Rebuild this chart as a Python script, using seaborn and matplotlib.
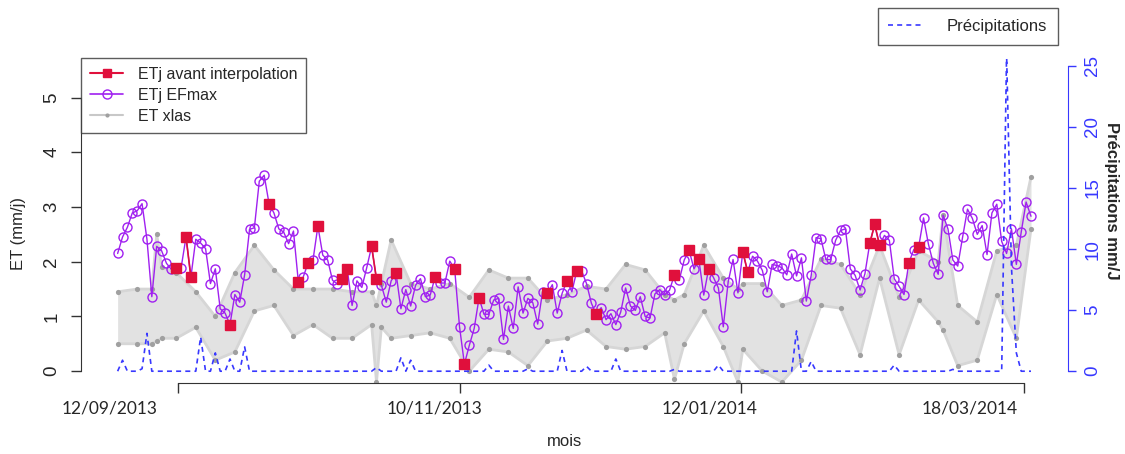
import matplotlib
matplotlib.use("Agg")
import matplotlib.pyplot as plt
from matplotlib.lines import Line2D
import seaborn as sns
import numpy as np
import pandas as pd

# ETj EFmax, one value a day from 12/09/2013 to 18/03/2014 (188 days)
et_efmax = [
    2.15, 2.45, 2.63, 2.89, 2.93, 3.06, 2.41, 1.36, 2.28, 2.20,
    1.97, 1.86, 1.89, 1.89, 2.45, 1.72, 2.41, 2.34, 2.24, 1.60,
    1.87, 1.14, 1.06, 0.85, 1.40, 1.26, 1.76, 2.59, 2.62, 3.47,
    3.58, 3.06, 2.89, 2.60, 2.54, 2.33, 2.56, 1.63, 1.72, 1.98,
    2.03, 2.65, 2.12, 2.03, 1.66, 1.59, 1.69, 1.87, 1.20, 1.65,
    1.53, 1.89, 2.28, 1.68, 1.57, 1.26, 1.65, 1.79, 1.14, 1.49,
    1.19, 1.57, 1.69, 1.36, 1.39, 1.72, 1.61, 1.61, 2.01, 1.87,
    0.81, 0.13, 0.47, 0.78, 1.34, 1.04, 1.04, 1.30, 1.33, 0.58,
    1.19, 0.78, 1.54, 1.06, 1.33, 1.25, 0.86, 1.45, 1.42, 1.58,
    1.06, 1.42, 1.65, 1.45, 1.83, 1.83, 1.60, 1.24, 1.04, 1.16,
    0.94, 1.05, 0.85, 1.08, 1.52, 1.19, 1.11, 1.36, 1.00, 0.97,
    1.41, 1.49, 1.39, 1.48, 1.76, 1.67, 2.03, 2.21, 1.87, 2.04,
    1.39, 1.87, 1.71, 1.52, 0.81, 1.63, 2.04, 1.43, 2.18, 1.81,
    2.10, 2.01, 1.84, 1.45, 1.95, 1.93, 1.89, 1.76, 2.14, 1.74,
    2.07, 1.28, 1.75, 2.44, 2.42, 2.04, 2.04, 2.39, 2.57, 2.60,
    1.87, 1.75, 1.48, 1.78, 2.34, 2.68, 2.30, 2.48, 2.39, 1.69,
    1.55, 1.40, 1.98, 2.22, 2.27, 2.80, 2.32, 1.97, 1.77, 2.85,
    2.60, 2.03, 1.92, 2.45, 2.96, 2.79, 2.50, 2.66, 2.13, 2.89,
    3.05, 2.37, 2.15, 2.60, 1.95, 2.54, 3.09, 2.83,
]

# days that had an ETj value before interpolation
raw_days = [12, 14, 15, 23, 31, 37, 39, 41, 46, 47, 52, 53, 57, 65, 69, 71,
            74, 88, 92, 94, 98, 114, 117, 119, 121, 128, 129, 154, 155, 156,
            162, 164]

# ET xlas band (upper / lower envelope)
xlas_days = [0, 4, 7, 8, 9, 12, 16, 20, 24, 28, 32, 36, 40, 44, 48, 52, 53,
             54, 56, 60, 64, 68, 72, 76, 80, 84, 88, 92, 96, 100, 104, 108,
             112, 114, 116, 120, 124, 127, 128, 132, 136, 140, 144, 148, 152,
             156, 160, 164, 168, 169, 172, 176, 180, 184, 187]
xlas_hi = [1.45, 1.50, 1.50, 2.50, 1.90, 1.80, 1.45, 1.00, 1.80, 2.30, 1.85,
           1.50, 1.50, 1.50, 1.45, 1.45, 1.20, 1.60, 2.40, 1.60, 1.50, 1.60,
           1.35, 1.85, 1.70, 1.70, 1.30, 1.40, 1.55, 1.50, 1.95, 1.85, 1.40,
           1.30, 1.40, 2.30, 1.70, 1.50, 1.60, 1.60, 1.20, 1.30, 2.05, 1.95,
           1.40, 2.30, 1.35, 2.20, 2.00, 2.85, 1.20, 0.90, 2.20, 2.30, 3.55]
xlas_lo = [0.50, 0.50, 0.50, 0.55, 0.60, 0.60, 0.80, 0.20, 0.35, 1.10, 1.20,
           0.65, 0.85, 0.60, 0.60, 0.85, -0.20, 0.80, 0.60, 0.65, 0.70, 0.60,
           0.00, 0.40, 0.35, 0.10, 0.55, 0.60, 0.75, 0.45, 0.40, 0.45, 0.70,
           -0.15, 0.50, 1.10, 0.45, -0.20, 0.40, 0.00, -0.20, 0.20, 1.20,
           1.15, 0.30, 1.70, 0.30, 1.30, 0.90, 0.75, 0.10, 0.20, 1.40, 0.60,
           2.60]

# rain (mm/j), zero on the other days
rain_days = [1, 5, 6, 17, 20, 23, 26, 53, 58, 60, 76, 84, 91, 96, 102, 114,
             123, 139, 142, 159, 171, 182, 183, 184]
rain_vals = [0.9, 0.2, 3.1, 2.8, 1.5, 1.0, 2.0, 0.3, 1.1, 0.9, 0.5, 0.2, 1.7,
             0.4, 1.0, 0.15, 0.5, 3.3, 0.8, 0.5, 0.15, 26.0, 8.5, 1.5]

date_labels = ["12/09/2013", "10/11/2013", "12/01/2014", "18/03/2014"]

n = len(et_efmax)
days = np.arange(n)
df = pd.DataFrame({"day": days, "efmax": et_efmax})
df["raw"] = np.nan
df.loc[raw_days, "raw"] = df.loc[raw_days, "efmax"]
df["rain"] = 0.0
df.loc[rain_days, "rain"] = rain_vals

PURPLE = "#a020f0"
RED = "#e0103c"
BLUE = "#3838ff"

sns.set_style("white")
plt.rcParams["font.family"] = ["Liberation Sans", "DejaVu Sans"]

fig = plt.figure(figsize=(11.25, 4.54), dpi=100)
ax = fig.add_axes([0.072, 0.156, 0.877, 0.716])

# ET xlas grey band
ax.fill_between(xlas_days, xlas_lo, xlas_hi, color="#e2e2e2", lw=0, zorder=1)
ax.plot(xlas_days, xlas_hi, color="#d6d6d6", lw=2, zorder=1)
ax.plot(xlas_days, xlas_lo, color="#d6d6d6", lw=2, zorder=1)
sns.scatterplot(x=xlas_days + xlas_days, y=xlas_hi + xlas_lo, ax=ax,
                color="#a0a0a0", s=14, linewidth=0, zorder=2)

sns.lineplot(data=df, x="day", y="efmax", ax=ax, color=PURPLE, lw=1,
             marker="o", markersize=6.5, markerfacecolor="none",
             markeredgecolor=PURPLE, markeredgewidth=1, zorder=3)
ax.plot(df["day"], df["raw"], color=RED, lw=1.2, marker="s", markersize=7,
        markeredgecolor=RED, zorder=4)

ax.set_xlim(-7.5, n - 1 + 7.5)
ax.set_ylim(-0.22, 5.72)
for s in ["top", "right"]:
    ax.spines[s].set_visible(False)
ax.spines["left"].set_bounds(0, 5)
ax.spines["bottom"].set_bounds(12.3, 185.5)
for s in ["left", "bottom"]:
    ax.spines[s].set_color("#333333")
ax.set_yticks(range(6))
ax.set_yticklabels([str(v) for v in range(6)], rotation=90, va="center",
                   fontsize=13.5)
ax.set_xticks([12.3, 70, 127.7, 185.5])
ax.set_xticklabels([])
ax.tick_params(axis="both", direction="out", length=7, width=1,
               color="#333333", left=True, bottom=True)
ax.tick_params(axis="y", pad=8)
ax.set_xlabel("")
ax.set_ylabel("")

# precipitation on the right axis
ax2 = ax.twinx()
sns.lineplot(data=df, x="day", y="rain", ax=ax2, color=BLUE, lw=1.2,
             linestyle=(0, (3, 2.5)), zorder=2)
ax2.set_ylim(-0.98, 25.64)
ax2.set_xlim(ax.get_xlim())
for s in ["top", "left", "bottom"]:
    ax2.spines[s].set_visible(False)
ax2.spines["right"].set_bounds(0, 25)
ax2.spines["right"].set_color(BLUE)
ax2.set_yticks(range(0, 26, 5))
ax2.set_yticklabels([str(v) for v in range(0, 26, 5)], rotation=90,
                    va="center", fontsize=13.5, color=BLUE)
ax2.tick_params(axis="y", direction="out", length=6, width=1, color=BLUE,
                right=True, pad=6)
ax2.set_ylabel("")

# date labels below the axis
for lab, px in zip(date_labels, [110, 435, 710, 970]):
    fig.text(px / 1125, 1 - 409 / 454, lab, ha="center", va="center",
             fontsize=12.5, family=["Lato", "DejaVu Sans"])
fig.text(565 / 1125, 1 - 442 / 454, "mois", ha="center", va="center",
         fontsize=12)
fig.text(19 / 1125, 1 - 233 / 454, "ET (mm/j)", rotation=90, ha="center",
         va="center", fontsize=12)
fig.text(1111 / 1125, 1 - 201 / 454, "Précipitations mm/J", rotation=270,
         ha="center", va="center", fontsize=12, fontweight="bold")

handles = [
    Line2D([], [], color=RED, marker="s", markersize=6, lw=1.5),
    Line2D([], [], color=PURPLE, marker="o", markersize=6.5,
           markerfacecolor="none", lw=1.2),
    Line2D([], [], color="#c8c8c8", marker="o", markersize=3,
           markerfacecolor="#a0a0a0", markeredgewidth=0, lw=1.5),
]
leg = ax.legend(handles, ["ETj avant interpolation", "ETj EFmax", "ET xlas"],
                loc="upper left", bbox_to_anchor=(0, 1), borderaxespad=0,
                fontsize=11.5, frameon=True, fancybox=False, handlelength=2.1,
                labelspacing=0.38, borderpad=0.55, handletextpad=0.9)
leg.get_frame().set_edgecolor("#333333")
leg.get_frame().set_linewidth(1)

leg2 = fig.legend([Line2D([], [], color=BLUE, lw=1.2, linestyle=(0, (3, 2.5)))],
                  ["Précipitations"], loc="upper right",
                  bbox_to_anchor=(1058 / 1125, 1 - 8 / 454), borderaxespad=0,
                  fontsize=12, frameon=True, fancybox=False,
                  handlelength=2.0, borderpad=0.65, handletextpad=1.5)
leg2.get_frame().set_edgecolor("#333333")
leg2.get_frame().set_linewidth(1)

fig.savefig("out.png", dpi=100)
